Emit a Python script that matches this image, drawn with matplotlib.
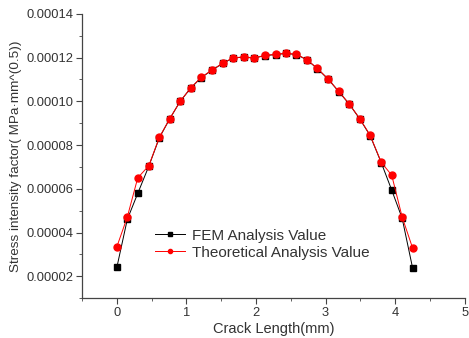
import numpy as np
import matplotlib
matplotlib.use("Agg")
import matplotlib.pyplot as plt
from matplotlib.ticker import MultipleLocator, FormatStrFormatter

plt.rcParams['font.family'] = ['Liberation Sans', 'DejaVu Sans']

# crack length positions (mm)
crack_length = [0.00, 0.15, 0.30, 0.46, 0.61, 0.76, 0.91, 1.06, 1.21, 1.37,
                1.52, 1.67, 1.82, 1.97, 2.13, 2.28, 2.43, 2.58, 2.73, 2.88,
                3.04, 3.19, 3.34, 3.49, 3.64, 3.80, 3.95, 4.10, 4.25]

# stress intensity factor, x1e-6 MPa*mm^0.5
theory = [33.5, 47.1, 65.0, 70.6, 83.5, 92.1, 100.0, 106.1, 110.9, 114.4,
          117.4, 119.9, 120.3, 119.9, 121.0, 121.5, 122.0, 121.5, 119.1, 115.1,
          110.1, 104.5, 98.8, 92.1, 84.5, 72.1, 66.2, 47.1, 32.9]
fem = [24.1, 46.0, 57.9, 70.4, 83.3, 92.0, 100.0, 106.0, 110.8, 114.3,
       117.3, 119.8, 120.2, 119.8, 120.9, 121.4, 121.9, 121.4, 119.0, 115.0,
       110.0, 104.4, 98.7, 92.0, 84.3, 71.9, 59.4, 46.5, 23.8]

x = np.array(crack_length)
y_fem = np.array(fem) * 1e-6
y_theory = np.array(theory) * 1e-6

fig = plt.figure(figsize=(4.69, 3.38), dpi=100)
ax = fig.add_axes([0.175, 0.118, 0.816, 0.841])

ax.plot(x, y_fem, color='black', lw=0.7, marker='s', ms=4.5,
        label='FEM Analysis Value')
ax.plot(x, y_theory, color='red', lw=0.7, marker='o', ms=5,
        label='Theoretical Analysis Value')

ax.set_xlim(-0.5, 5)
ax.set_ylim(0.00001, 0.00014)
ax.xaxis.set_major_locator(MultipleLocator(1))
ax.xaxis.set_minor_locator(MultipleLocator(0.5))
ax.yaxis.set_major_locator(MultipleLocator(0.00002))
ax.yaxis.set_minor_locator(MultipleLocator(0.00001))
ax.yaxis.set_major_formatter(FormatStrFormatter('%.5f'))

for side in ['top', 'right']:
    ax.spines[side].set_visible(False)
for side in ['left', 'bottom']:
    ax.spines[side].set_color('#444444')
    ax.spines[side].set_linewidth(0.9)
ax.tick_params(which='both', direction='out', colors='#444444',
               labelcolor='#333333', labelsize=9.3, pad=2.5)
ax.tick_params(which='major', length=4)
ax.tick_params(which='minor', length=2.5)

ax.set_xlabel('Crack Length(mm)', fontsize=10.5, color='#333333', labelpad=2)
ax.set_ylabel('Stress intensity factor( MPa·mm^(0.5))', fontsize=9.7,
              color='#333333', labelpad=3)

ax.legend(loc='center left', bbox_to_anchor=(0.154, 0.19), frameon=False,
          fontsize=11, markerscale=0.6, handlelength=2.0, handletextpad=0.45,
          labelspacing=0.2, labelcolor='#333333')

fig.savefig('out.png', dpi=100)
